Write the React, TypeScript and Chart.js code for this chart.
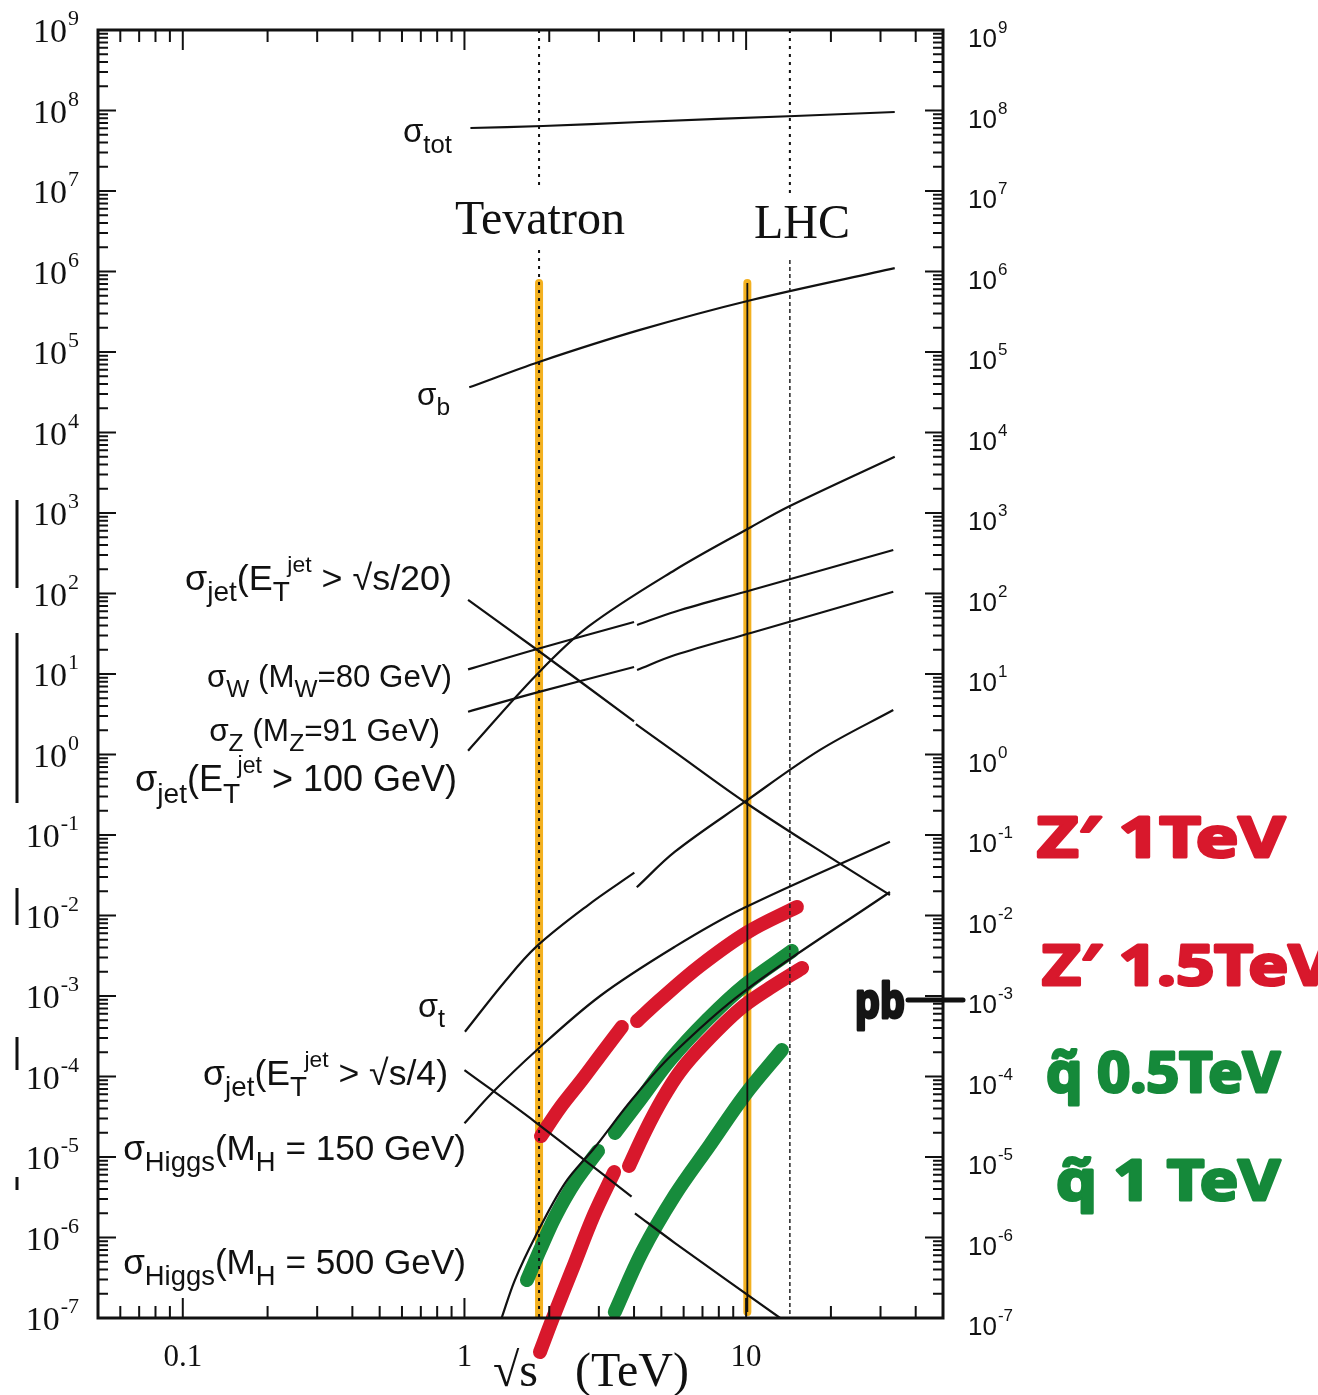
import React, { useEffect, useRef } from "react";
import { Chart, registerables } from "chart.js";
Chart.register(...registerables);

// ---- data: sqrt(s) in TeV, cross sections in nb ----
const totE = [1.05, 1.9, 4.2, 14.9, 33.7];
const totS = [6.06e7, 6.42e7, 7.2e7, 8.55e7, 9.58e7];

const bE = [1.04, 1.85, 4.2, 10.46, 33.7];
const bS = [3.64e4, 7.58e4, 1.88e5, 4.43e5, 1.1e6];

const jet20LoE = [1.03, 1.8, 4.0];
const jet20LoS = [83.1, 20.3, 2.58];
const jet20HiE = [4.06, 5.59, 10.0, 21.0, 32.4];
const jet20HiS = [2.39, 1.07, 0.25, 0.0466, 0.018];

const wLoE = [1.03, 1.8, 4.0];
const wLoS = [11.4, 20.3, 44.3];
const wHiE = [4.1, 5.59, 10.46, 33.3];
const wHiS = [40.6, 59.4, 110.5, 347];

const zLoE = [1.03, 1.8, 4.0];
const zLoS = [3.4, 5.86, 12.2];
const zHiE = [4.1, 5.59, 10.46, 33.3];
const zHiS = [11.2, 17.2, 32.6, 105];

const jet100E = [1.03, 1.8, 2.75, 5.59, 10.46, 14.3, 33.7];
const jet100S = [1.115, 9.72, 38.7, 196, 676, 1222, 5005];

const topLoE = [1.004, 1.39, 1.8, 2.75, 4.01];
const topLoS = [3.6e-4, 1.505e-3, 4.1e-3, 0.0135, 0.034];
const topHiE = [4.09, 5.59, 9.77, 18.3, 33.3];
const topHiS = [0.0224, 0.062, 0.25, 1.14, 3.57];

const jet4LoE = [1.0, 1.78, 3.92];
const jet4LoS = [1.2e-4, 2.74e-5, 3.21e-6];
const jet4HiE = [4.03, 5.59, 13.2];
const jet4HiS = [2.0e-6, 8.54e-7, 1.0e-7];

const h150E = [1.0, 1.25, 1.78, 3.03, 5.59, 9.77, 32.4];
const h150S = [2.62e-5, 6.18e-5, 2.03e-4, 1.0e-3, 4.1e-3, 0.0123, 0.0826];

const h500E = [1.355, 1.51, 1.78, 2.275, 2.91, 3.92, 5.44, 9.77, 32.4];
const h500S = [1e-7, 2.96e-7, 1.01e-6, 4.75e-6, 1.33e-5, 5.1e-5, 1.85e-4, 1.12e-3, 0.0196];

// hand-drawn bands
const zp1LoE = [1.87, 2.18, 2.61, 3.1, 3.62];
const zp1LoS = [1.82e-5, 4.06e-5, 9.05e-5, 2.02e-4, 4.12e-4];
const zp1HiE = [4.1, 4.94, 6.85, 10.15, 15.15];
const zp1HiS = [4.89e-4, 8.92e-4, 2.36e-3, 6.24e-3, 0.01275];

const zp15LoE = [1.854, 2.06, 2.41, 2.88, 3.4];
const zp15LoS = [3.78e-8, 1.0e-7, 3.95e-7, 1.9e-6, 6.51e-6];
const zp15HiE = [3.84, 4.37, 5.02, 5.81, 7.14, 9.51, 12.15, 15.8];
const zp15HiS = [7.73e-6, 2.04e-5, 5.1e-5, 1.14e-4, 2.61e-4, 6.9e-4, 1.26e-3, 2.23e-3];

const sq05LoE = [1.667, 1.854, 2.097, 2.47, 2.98];
const sq05LoS = [2.96e-7, 6.99e-7, 1.8e-6, 4.89e-6, 1.19e-5];
const sq05HiE = [3.42, 4.2, 5.37, 7.26, 9.9, 14.54];
const sq05HiS = [1.99e-5, 5.1e-5, 1.6e-4, 5.03e-4, 1.37e-3, 3.62e-3];

const sq1E = [3.42, 4.27, 5.59, 7.44, 9.9, 13.4];
const sq1S = [1.19e-7, 6.6e-7, 3.37e-6, 1.41e-5, 5.89e-5, 2.13e-4];

// machine energies
const tevatronE = 1.84;
const lhcE = 14.3;
const lhcRunE = 10.1;
const markTop = 7.2e5;
const tevGap = [1.03e7, 1.85e6];
const lhcGap = [8.4e6, 1.39e6];

const xMajor = [0.1, 1, 10];
const xMajorLabels = ["0.1", "1", "10"];
const yExponents = [-7, -6, -5, -4, -3, -2, -1, 0, 1, 2, 3, 4, 5, 6, 7, 8, 9];

const SANS = '"Liberation Sans", Arial, sans-serif';
const SERIF = '"Liberation Serif", "Times New Roman", serif';

type Seg = { t: string; k: "n" | "sub" | "ss"; t2?: string };
const S = (t: string): Seg => ({ t, k: "n" });
const sub = (t: string): Seg => ({ t, k: "sub" });
const ss = (t: string, t2: string): Seg => ({ t, k: "ss", t2 });
const sig = S("σ");

const curveLabels: { segs: Seg[]; l: number; r: number; y: number }[] = [
  { segs: [sig, sub("tot")], l: 403, r: 452, y: 142 },
  { segs: [sig, sub("b")], l: 417, r: 450, y: 405 },
  { segs: [sig, sub("jet"), S("(E"), ss("T", "jet"), S(" > √s/20)")], l: 185, r: 452, y: 590 },
  { segs: [sig, sub("W"), S(" (M"), sub("W"), S("=80 GeV)")], l: 207, r: 452, y: 687 },
  { segs: [sig, sub("Z"), S(" (M"), sub("Z"), S("=91 GeV)")], l: 209, r: 440, y: 741 },
  { segs: [sig, sub("jet"), S("(E"), ss("T", "jet"), S(" > 100 GeV)")], l: 135, r: 457, y: 791 },
  { segs: [sig, sub("t")], l: 418, r: 445, y: 1017 },
  { segs: [sig, sub("jet"), S("(E"), ss("T", "jet"), S(" > √s/4)")], l: 203, r: 448, y: 1085 },
  { segs: [sig, sub("Higgs"), S("(M"), sub("H"), S(" = 150 GeV)")], l: 123, r: 466, y: 1160 },
  { segs: [sig, sub("Higgs"), S("(M"), sub("H"), S(" = 500 GeV)")], l: 123, r: 466, y: 1274 },
];

function segWidths(ctx: CanvasRenderingContext2D, segs: Seg[], size: number) {
  const small = size * 0.78;
  const sup = size * 0.64;
  return segs.map((s) => {
    if (s.k === "n") {
      ctx.font = `${size}px ${SANS}`;
      return ctx.measureText(s.t).width;
    }
    ctx.font = `${small}px ${SANS}`;
    const w = ctx.measureText(s.t).width;
    if (s.k === "ss") {
      ctx.font = `${sup}px ${SANS}`;
      return w * 0.85 + ctx.measureText(s.t2 || "").width;
    }
    return w;
  });
}

function drawRich(ctx: CanvasRenderingContext2D, segs: Seg[], xLeft: number, xRight: number, base: number) {
  const nat = segWidths(ctx, segs, 32).reduce((a, b) => a + b, 0);
  const size = Math.min(38, 32 * (xRight - xLeft) / nat);
  const widths = segWidths(ctx, segs, size);
  const small = size * 0.78;
  const sup = size * 0.64;
  let x = xRight - widths.reduce((a, b) => a + b, 0);
  segs.forEach((s, i) => {
    if (s.k === "n") {
      ctx.font = `${size}px ${SANS}`;
      ctx.fillText(s.t, x, base);
    } else {
      ctx.font = `${small}px ${SANS}`;
      const w = ctx.measureText(s.t).width;
      ctx.fillText(s.t, x, base + size * 0.32);
      if (s.k === "ss") {
        ctx.font = `${sup}px ${SANS}`;
        ctx.fillText(s.t2 || "", x + w * 0.85, base - size * 0.5);
      }
    }
    x += widths[i];
  });
}

function drawFit(ctx: CanvasRenderingContext2D, text: string, x: number, base: number, w: number, font: string, color: string) {
  ctx.save();
  ctx.font = font;
  const m = ctx.measureText(text).width;
  ctx.translate(x, base);
  ctx.scale(w / m, 1);
  ctx.fillStyle = color;
  ctx.strokeStyle = color;
  ctx.lineWidth = 3;
  ctx.lineJoin = "round";
  ctx.strokeText(text, 0, 0);
  ctx.fillText(text, 0, 0);
  ctx.restore();
}

const decor = {
  id: "decor",
  afterDraw(chart: any) {
    const ctx: CanvasRenderingContext2D = chart.ctx;
    const xs = chart.scales.x;
    const ys = chart.scales.y;
    const { left, right, top, bottom } = chart.chartArea;
    ctx.save();
    ctx.fillStyle = "#111";
    ctx.strokeStyle = "#111";

    // ticks
    ctx.lineWidth = 2;
    ctx.beginPath();
    for (let e = -7; e < 9; e++) {
      for (let m = 1; m <= 9; m++) {
        const v = m * Math.pow(10, e);
        const py = ys.getPixelForValue(v);
        const L = m === 1 ? 18 : 10;
        ctx.moveTo(left, py); ctx.lineTo(left + L, py);
        ctx.moveTo(right, py); ctx.lineTo(right - L, py);
      }
    }
    for (let e = -2; e <= 1; e++) {
      for (let m = 1; m <= 9; m++) {
        const v = m * Math.pow(10, e);
        if (v < 0.05 || v > 50) continue;
        const px = xs.getPixelForValue(v);
        const L = m === 1 ? 20 : 12;
        ctx.moveTo(px, top); ctx.lineTo(px, top + L);
        ctx.moveTo(px, bottom); ctx.lineTo(px, bottom - L);
      }
    }
    ctx.stroke();

    // frame
    ctx.lineWidth = 3;
    ctx.strokeRect(left, top, right - left, bottom - top);

    // left & right y labels
    ctx.textBaseline = "alphabetic";
    yExponents.forEach((e) => {
      const py = ys.getPixelForValue(Math.pow(10, e));
      const ex = String(e);
      ctx.font = `34px ${SERIF}`;
      const w10 = ctx.measureText("10").width;
      ctx.font = `22px ${SERIF}`;
      const wex = ctx.measureText(ex).width;
      const x0 = 78 - w10 - wex;
      ctx.font = `34px ${SERIF}`;
      ctx.fillText("10", x0, py + 12);
      ctx.font = `22px ${SERIF}`;
      ctx.fillText(ex, x0 + w10 + 1, py - 5);

      ctx.font = `26px ${SANS}`;
      const rw = ctx.measureText("10").width;
      ctx.fillText("10", 968, py + 17);
      ctx.font = `17px ${SANS}`;
      ctx.fillText(ex, 968 + rw + 1, py + 3);
    });

    // x labels
    ctx.textAlign = "center";
    ctx.font = `31px ${SERIF}`;
    xMajor.forEach((v, i) => {
      ctx.fillText(xMajorLabels[i], xs.getPixelForValue(v), 1366);
    });
    ctx.textAlign = "left";
    ctx.font = `48px ${SERIF}`;
    ctx.fillText("√s", 493, 1386);
    ctx.fillText("(TeV)", 575, 1386);

    // machine names
    ctx.font = `48px ${SERIF}`;
    ctx.fillText("Tevatron", 455, 234);
    ctx.fillText("LHC", 754, 238);

    // curve labels
    curveLabels.forEach((l) => drawRich(ctx, l.segs, l.l, l.r, l.y));

    // scan artifacts at left margin
    ctx.lineWidth = 3;
    ctx.beginPath();
    [[500, 588], [633, 803], [888, 925], [1037, 1070], [1177, 1190]].forEach(([a, b]) => {
      ctx.moveTo(17, a); ctx.lineTo(17, b);
    });
    ctx.stroke();

    // hand-written annotations
    const red = "#d8182c";
    const green = "#15893a";
    drawFit(ctx, "Z′ 1TeV", 1037, 857, 248, `bold 56px "Noto Sans", sans-serif`, red);
    drawFit(ctx, "Z′ 1.5TeV", 1042, 985, 290, `bold 56px "Noto Sans", sans-serif`, red);
    drawFit(ctx, "q\u0303 0.5TeV", 1046, 1092, 234, `bold 56px "Noto Sans", sans-serif`, green);
    drawFit(ctx, "q\u0303 1 TeV", 1056, 1200, 224, `bold 56px "Noto Sans", sans-serif`, green);
    drawFit(ctx, "pb", 855, 1018, 50, `bold 48px "Noto Sans", sans-serif`, "#151515");
    const p3 = ys.getPixelForValue(1e-3);
    ctx.lineWidth = 5;
    ctx.lineCap = "round";
    ctx.beginPath();
    ctx.moveTo(908, p3 + 4); ctx.lineTo(963, p3 + 4);
    ctx.stroke();
    ctx.restore();
  },
};

const pts = (xs: number[], ys: number[]) => xs.map((x, i) => ({ x, y: ys[i] }));

export default function App() {
  const ref = useRef<HTMLCanvasElement>(null);
  useEffect(() => {
    const canvas = ref.current!;
    const black = (data: any) => ({
      data, borderColor: "#111", borderWidth: 2.2, pointRadius: 0,
      tension: 0.35, fill: false, order: 0,
    });
    const band = (data: any, color: string) => ({
      data, borderColor: color, borderWidth: 14, borderCapStyle: "round", borderJoinStyle: "round",
      pointRadius: 0, tension: 0.35, fill: false, clip: false, order: 1,
    });
    const vline = (x: number, y0: number, y1: number, color: string, width: number, dash: number[], order: number, cap = "butt") => ({
      data: [{ x, y: y0 }, { x, y: y1 }], borderColor: color, borderWidth: width, borderDash: dash,
      borderCapStyle: cap, pointRadius: 0, tension: 0, fill: false, order,
    });
    const RED = "#d8182c";
    const GREEN = "#178c3c";
    const ORANGE = "#f3b121";
    const datasets: any[] = [
      black(pts(totE, totS)),
      black(pts(bE, bS)),
      black(pts(jet20LoE, jet20LoS)),
      black(pts(jet20HiE, jet20HiS)),
      black(pts(wLoE, wLoS)),
      black(pts(wHiE, wHiS)),
      black(pts(zLoE, zLoS)),
      black(pts(zHiE, zHiS)),
      black(pts(jet100E, jet100S)),
      black(pts(topLoE, topLoS)),
      black(pts(topHiE, topHiS)),
      black(pts(jet4LoE, jet4LoS)),
      black(pts(jet4HiE, jet4HiS)),
      black(pts(h150E, h150S)),
      black(pts(h500E, h500S)),
      vline(tevatronE, 1e9, tevGap[0], "#111", 2, [3, 5], 0),
      vline(tevatronE, tevGap[1], 1e-7, "#111", 2, [3, 5], 0),
      vline(lhcE, 1e9, lhcGap[0], "#111", 2, [3, 5], 0),
      vline(lhcE, lhcGap[1], 1e-7, "#222", 1.5, [4, 3], 0),
      vline(lhcRunE, markTop, 1.19e-7, "#111", 1.8, [], 0),
      band(pts(zp1LoE, zp1LoS), RED),
      band(pts(zp1HiE, zp1HiS), RED),
      band(pts(zp15LoE, zp15LoS), RED),
      band(pts(zp15HiE, zp15HiS), RED),
      band(pts(sq05LoE, sq05LoS), GREEN),
      band(pts(sq05HiE, sq05HiS), GREEN),
      band(pts(sq1E, sq1S), GREEN),
      vline(tevatronE, markTop, 1e-7, ORANGE, 8, [], 2, "round"),
      vline(lhcRunE, markTop, 1.19e-7, ORANGE, 8, [], 2, "round"),
    ];
    const chart = new Chart(canvas, {
      type: "line",
      data: { datasets },
      options: {
        responsive: false,
        animation: false,
        devicePixelRatio: 1,
        events: [],
        layout: { padding: { left: 98, right: 375, top: 30, bottom: 77 } },
        plugins: { legend: { display: false }, tooltip: { enabled: false } },
        scales: {
          x: { type: "logarithmic", min: 0.05, max: 50, display: false },
          y: { type: "logarithmic", min: 1e-7, max: 1e9, display: false },
        },
      } as any,
      plugins: [decor],
    });
    return () => chart.destroy();
  }, []);
  return (
    <div style={{ position: "absolute", left: 0, top: 0, width: 1318, height: 1395, background: "#fff", overflow: "hidden" }}>
      <canvas ref={ref} width={1318} height={1395} style={{ width: 1318, height: 1395, display: "block" }} />
    </div>
  );
}
